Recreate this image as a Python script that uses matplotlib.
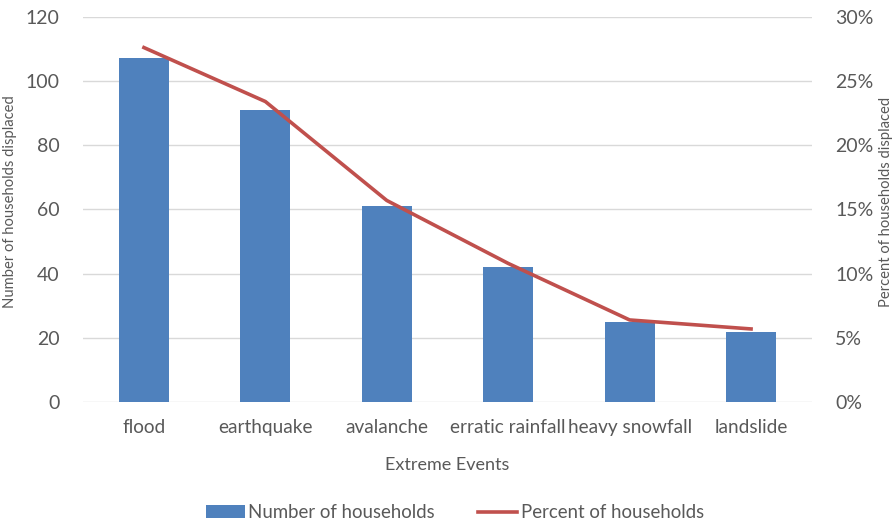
import matplotlib.pyplot as plt
from matplotlib.ticker import PercentFormatter

plt.rcParams['font.family'] = ['Lato', 'DejaVu Sans']

# Data
events = ["flood", "earthquake", "avalanche", "erratic rainfall", "heavy snowfall", "landslide"]
households = [107, 91, 61, 42, 25, 22]
percent = [27.6, 23.4, 15.7, 10.8, 6.4, 5.7]

text_col = "#595959"
bar_col = "#4F81BD"
line_col = "#C0504D"

fig = plt.figure(figsize=(8.95, 5.23), dpi=100)
ax = fig.add_axes([0.093, 0.231, 0.814, 0.737])
x = range(len(events))

bars = ax.bar(x, households, width=0.41, color=bar_col, zorder=2, label="Number of households")
ax.set_ylim(0, 120)
ax.set_yticks(range(0, 121, 20))
ax.set_xlim(-0.5, len(events) - 0.5)
ax.set_xticks(list(x))
ax.set_xticklabels(events)
ax.grid(axis="y", color="#D9D9D9", linewidth=1, zorder=0)
for s in ax.spines.values():
    s.set_visible(False)
ax.tick_params(length=0, colors=text_col)
ax.tick_params(axis="x", pad=12, labelsize=13.7)
ax.tick_params(axis="y", pad=17, labelsize=14)
ax.set_ylabel("Number of households displaced", color=text_col, fontsize=10.6)
ax.yaxis.set_label_coords(-0.091, 0.52)
ax.set_xlabel("Extreme Events", color=text_col, fontsize=13)
ax.xaxis.set_label_coords(0.5, -0.142)

ax2 = ax.twinx()
line, = ax2.plot(x, percent, color=line_col, linewidth=2.6, zorder=3, label="Percent of households")
ax2.set_ylim(0, 30)
ax2.set_yticks(range(0, 31, 5))
ax2.yaxis.set_major_formatter(PercentFormatter(decimals=0))
for s in ax2.spines.values():
    s.set_visible(False)
ax2.tick_params(length=0, colors=text_col, labelsize=14, pad=17)
ax2.set_ylabel("Percent of households displaced", color=text_col, fontsize=10.6)
ax2.yaxis.set_label_coords(1.092, 0.52)

fig.legend([bars, line], ["Number of households", "Percent of households"],
           loc="center", bbox_to_anchor=(0.508, 0.02), ncol=2, frameon=False,
           fontsize=13.4, labelcolor=text_col, handlelength=2.1, columnspacing=2.3,
           handletextpad=0.2, handleheight=0.65)

plt.savefig("out.png", dpi=100)
